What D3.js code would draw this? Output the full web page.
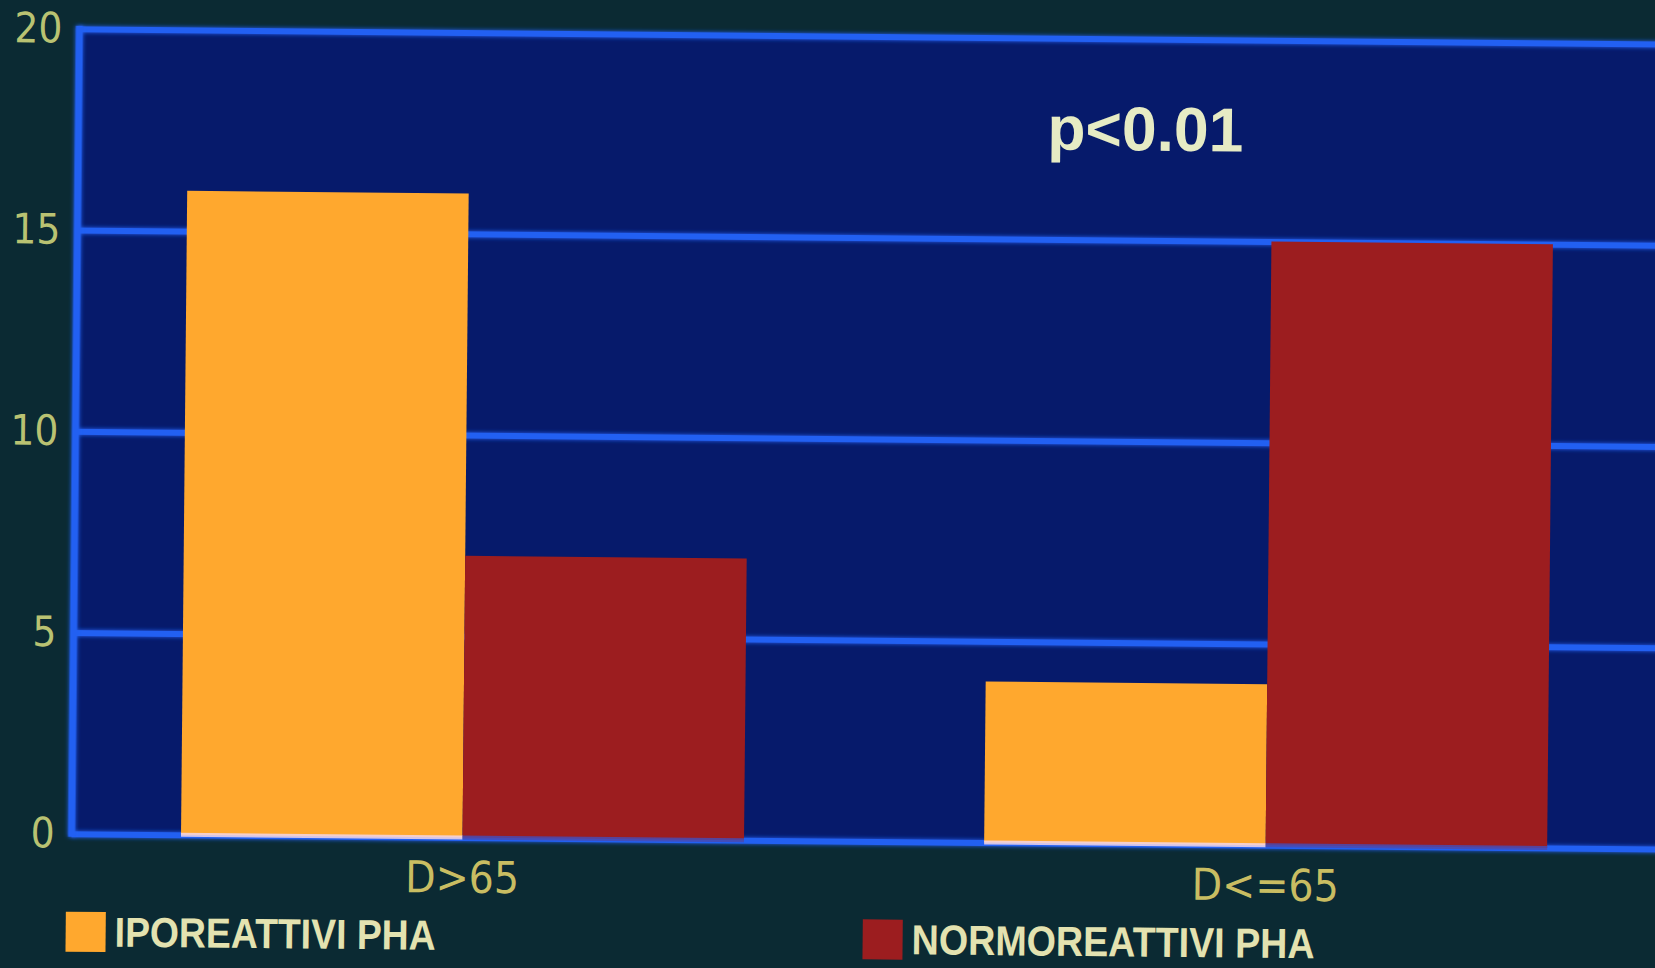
<!DOCTYPE html>
<html>
<head>
<meta charset="utf-8">
<script src="https://cdn.jsdelivr.net/npm/d3@7"></script>
<style>
  html, body { margin: 0; padding: 0; background: #0b2a33; }
  svg { display: block; }
</style>
</head>
<body>
<svg id="chart" width="1655" height="968"></svg>
<script>
// Categories, series and tick values
const categories = ["D>65", "D<=65"];
const seriesNames = ["IPOREATTIVI PHA", "NORMOREATTIVI PHA"];
const iporeattivi = [16, 4];
const normoreattivi = [7, 15];
const yTicks = [0, 5, 10, 15, 20];
const pLabel = "p<0.01";

const colors = ["#ffa82e", "#9c1d1f"];
const W = 1655, H = 968;
const plotLeft = 75, plotTop = 36, plotBottom = 841, plotRight = 1720;
const lineColor = "#2160f2";

const svg = d3.select("#chart");
svg.append("rect").attr("width", W).attr("height", H).attr("fill", "#0b2a33");

const defs = svg.append("defs");
const glow = defs.append("filter").attr("id", "glow")
  .attr("filterUnits", "userSpaceOnUse")
  .attr("x", -200).attr("y", -200).attr("width", 2200).attr("height", 1400);
glow.append("feGaussianBlur").attr("in", "SourceGraphic").attr("stdDeviation", 2.2).attr("result", "blur");
const merge = glow.append("feMerge");
merge.append("feMergeNode").attr("in", "blur");
merge.append("feMergeNode").attr("in", "SourceGraphic");

// slide is photographed with a slight clockwise tilt
const g = svg.append("g").attr("transform", "rotate(0.55, 827, 484)");

const y = d3.scaleLinear().domain([0, 20]).range([plotBottom, plotTop]);
const x0 = d3.scaleBand().domain(categories).range([80, 1655])
  .paddingInner(0.299).paddingOuter(0.13);
const x1 = d3.scaleBand().domain(seriesNames).range([0, x0.bandwidth()]);

// plot panel
g.append("rect")
  .attr("x", plotLeft).attr("y", plotTop)
  .attr("width", plotRight - plotLeft).attr("height", plotBottom - plotTop)
  .attr("fill", "#061a6b");

// value axis with gridlines
const yAxis = g.append("g")
  .attr("transform", `translate(${plotLeft},0)`)
  .call(d3.axisLeft(y).tickValues(yTicks).tickSize(-(plotRight - plotLeft)).tickPadding(17));
yAxis.select(".domain").remove();
yAxis.selectAll(".tick line")
  .attr("stroke", lineColor).attr("stroke-width", 6)
  .attr("filter", "url(#glow)");
yAxis.selectAll(".tick text")
  .attr("fill", "#b9c272")
  .attr("font-family", "'Liberation Sans Narrow', 'DejaVu Sans Condensed', sans-serif")
  .attr("font-size", 42);

// left axis line
g.append("line")
  .attr("x1", plotLeft).attr("x2", plotLeft)
  .attr("y1", plotTop - 3).attr("y2", plotBottom + 3)
  .attr("stroke", lineColor).attr("stroke-width", 7)
  .attr("filter", "url(#glow)");

// bars
const rows = categories.map((c, i) => ({
  category: c,
  values: [
    { key: seriesNames[0], value: iporeattivi[i] },
    { key: seriesNames[1], value: normoreattivi[i] }
  ]
}));

const groups = g.selectAll(".group").data(rows).join("g")
  .attr("class", "group")
  .attr("transform", d => `translate(${x0(d.category)},0)`);

groups.selectAll(".bar").data(d => d.values).join("rect")
  .attr("class", "bar")
  .attr("x", d => x1(d.key))
  .attr("y", d => y(d.value))
  .attr("width", x1.bandwidth())
  .attr("height", d => y(0) - y(d.value))
  .attr("fill", (d, i) => colors[i]);

// pale rim where the bars meet the baseline
groups.selectAll(".rim").data(d => d.values).join("rect")
  .attr("class", "rim")
  .attr("x", d => x1(d.key))
  .attr("y", y(0) - 2)
  .attr("width", x1.bandwidth())
  .attr("height", 4)
  .attr("fill", (d, i) => i === 0 ? "#f3d6e6" : "#4a4ab0")
  .attr("opacity", 0.85);

// category labels
const xAxis = g.append("g")
  .attr("transform", `translate(0,${plotBottom})`)
  .call(d3.axisBottom(x0).tickSize(0).tickPadding(24));
xAxis.select(".domain").remove();
xAxis.selectAll(".tick text")
  .attr("fill", "#c9bd62")
  .attr("font-family", "'Liberation Sans Narrow', 'DejaVu Sans Condensed', sans-serif")
  .attr("font-size", 44);

// significance note
g.append("text")
  .attr("x", 1142).attr("y", 126)
  .attr("text-anchor", "middle").attr("dominant-baseline", "central")
  .attr("fill", "#e6ebc4")
  .attr("font-family", "'Liberation Sans', 'DejaVu Sans', sans-serif")
  .attr("font-weight", "bold")
  .attr("font-size", 62)
  .attr("textLength", 196).attr("lengthAdjust", "spacingAndGlyphs")
  .text(pLabel);

// legend
const legendX = [70, 867];
const legendW = [321, 403];
const legend = g.selectAll(".legend").data(seriesNames).join("g")
  .attr("class", "legend")
  .attr("transform", (d, i) => `translate(${legendX[i]},939)`);
legend.append("rect")
  .attr("x", 0).attr("y", -20).attr("width", 40).attr("height", 40)
  .attr("fill", (d, i) => colors[i]);
legend.append("text")
  .attr("x", 49).attr("y", 0)
  .attr("dominant-baseline", "central")
  .attr("fill", "#e3e2b0")
  .attr("font-family", "'Liberation Sans', 'DejaVu Sans', sans-serif")
  .attr("font-weight", "bold")
  .attr("font-size", 42)
  .attr("textLength", (d, i) => legendW[i]).attr("lengthAdjust", "spacingAndGlyphs")
  .text(d => d);
</script>
</body>
</html>
